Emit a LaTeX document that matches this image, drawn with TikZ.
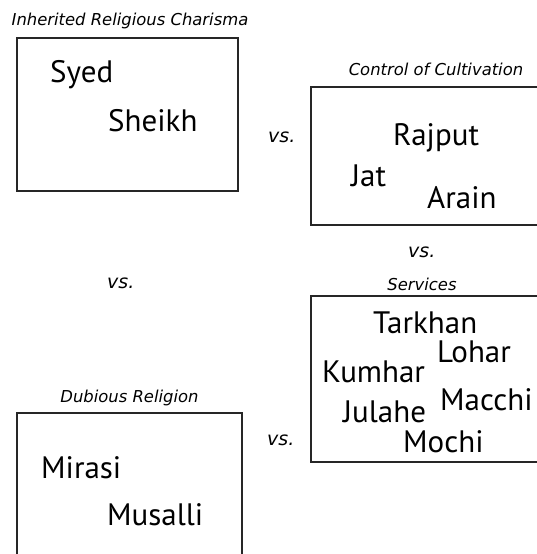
\documentclass[tikz,border=0pt]{standalone}
\usepackage{fontspec}
\setmainfont{PT Sans}
\newfontfamily\labelfont{DejaVu Sans}
\begin{document}
\begin{tikzpicture}[x=1pt,y=-1pt,
  box/.style={draw=black!85,line width=1.4pt},
  caste/.style={anchor=base west,inner sep=0pt,font=\fontsize{31}{34}\selectfont},
  cat/.style={anchor=base,inner sep=0pt,font=\labelfont\itshape\fontsize{16.4}{19}\selectfont},
  versus/.style={anchor=base west,inner sep=0pt,font=\labelfont\itshape\fontsize{19}{22}\selectfont}]
\useasboundingbox (0,0) rectangle (537,554);
\coordinate (b1) at (17,38);
\coordinate (b2) at (311,87);
\coordinate (b3) at (311,296);
\coordinate (b4) at (17,413);
\draw[box] (b1) rectangle (238,191);
\draw[box] (537,87) -- (b2) -- (311,225) -- (537,225);
\draw[box] (537,296) -- (b3) -- (311,462) -- (537,462);
\draw[box] (17,554) -- (b4) -- (242,413) -- (242,554);
\node[cat] (t1) at (130,25) {Inherited Religious Charisma};
\node[cat] (t2) at (436,75) {Control of Cultivation};
\node[cat] (t3) at (422,290) {Services};
\node[cat] (t4) at (129.5,402) {Dubious Religion};
\node[caste] (syed) at (50,82) {Syed};
\node[caste] (sheikh) at (108,131) {Sheikh};
\node[caste] (rajput) at (393,145) {Rajput};
\node[caste] (jat) at (351,186) {Jat};
\node[caste] (arain) at (427,208) {Arain};
\node[caste] (tarkhan) at (373,333) {Tarkhan};
\node[caste] (lohar) at (437,362) {Lohar};
\node[caste] (kumhar) at (322,382) {Kumhar};
\node[caste] (macchi) at (440,410) {Macchi};
\node[caste] (julahe) at (343,422) {Julahe};
\node[caste] (mochi) at (403,452) {Mochi};
\node[caste] (mirasi) at (41,478) {Mirasi};
\node[caste] (musalli) at (107,525) {Musalli};
\node[versus] (vs1) at (268,142) {vs.};
\node[versus] (vs2) at (408,257) {vs.};
\node[versus] (vs3) at (107,288) {vs.};
\node[versus] (vs4) at (267,445) {vs.};
\end{tikzpicture}
\end{document}
